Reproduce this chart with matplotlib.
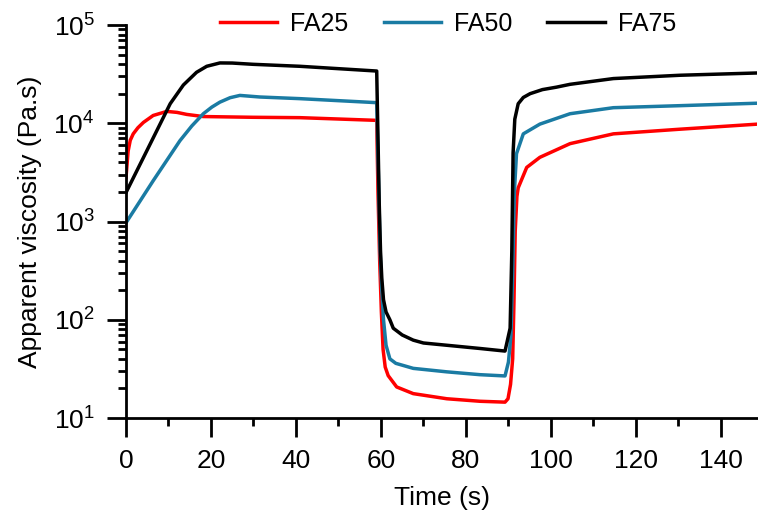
import matplotlib
matplotlib.use("Agg")
import matplotlib.pyplot as plt
from matplotlib import ticker

# viscosity step test: low shear, high shear, recovery
fa25_t = [0.0, 0.5, 1.0, 1.7, 2.8, 4.1, 6.4, 9.6, 12.0, 14.3, 18.2, 29.9, 40.9, 59.0,
          59.3, 59.7, 60.1, 60.5, 61.0, 61.7, 63.7, 67.6, 75.5, 83.3, 89.2,
          89.9, 90.5, 91.0, 91.3, 91.6, 92.0, 92.3, 94.3, 97.4, 104.5,
          114.7, 130.4, 148.7]
fa25_v = [2800, 5200, 6700, 7800, 9000, 10200, 12000, 13200, 12900, 12300, 11700, 11500, 11400, 10700,
          2000, 400, 120, 50, 33, 27, 20.7, 17.7, 15.7, 14.8, 14.5,
          15.7, 22, 40, 150, 800, 1800, 2200, 3550, 4500, 6200,
          7800, 8700, 9800]

fa50_t = [0.0, 6.4, 12.7, 15.5, 18.2, 20.2, 22.1, 24.5, 26.8, 31.5, 40.9, 59.0,
          59.4, 59.8, 60.2, 60.6, 61.2, 62.1, 63.5, 65.5, 67.6, 75.5, 83.3, 89.2,
          90.0, 90.6, 91.0, 91.4, 91.9, 93.5, 97.4, 104.5,
          114.7, 130.4, 148.7]
fa50_v = [970, 2600, 6650, 9400, 12500, 14600, 16400, 18200, 19200, 18500, 17800, 16200,
          3000, 500, 200, 100, 55, 40, 36, 34, 32, 29.5, 27.6, 26.8,
          37, 70, 300, 2000, 4900, 7800, 9800, 12500,
          14400, 15100, 16000]

fa75_t = [0.0, 4.9, 10.4, 13.5, 16.6, 19.0, 22.1, 25.0, 29.9, 40.9, 59.0,
          59.6, 59.9, 60.2, 60.6, 61.2, 62.1, 62.9, 65.0, 67.6, 70.0, 75.5, 83.3, 89.2,
          90.4, 90.8, 91.1, 91.5, 92.3, 93.5, 95.1, 98.0, 101.3, 104.5,
          114.7, 130.4, 148.7]
fa75_v = [1970, 5250, 15800, 24500, 33000, 38000, 41100, 41000, 39800, 38000, 34000,
          1500, 500, 265, 160, 120, 100, 82, 70, 62, 58, 55, 51, 48,
          82, 500, 5000, 11000, 15800, 18300, 20000, 22000, 23300, 24900,
          28500, 30800, 32500]

series = [("FA25", fa25_t, fa25_v, "#ff0000"),
          ("FA50", fa50_t, fa50_v, "#1a7ba3"),
          ("FA75", fa75_t, fa75_v, "#000000")]

plt.rcParams["font.family"] = ["Liberation Sans", "DejaVu Sans"]
plt.rcParams["mathtext.fontset"] = "custom"
plt.rcParams["mathtext.rm"] = "Liberation Sans"

fig = plt.figure(figsize=(7.58, 5.18), dpi=100)
ax = fig.add_axes([126 / 758, 1 - 418 / 518, (757 - 126) / 758, (418 - 25) / 518])

for name, t, v, color in series:
    ax.plot(t, v, color=color, lw=2.5, label=name)

ax.set_yscale("log")
ax.set_xlim(0, 148.5)
ax.set_ylim(10, 1e5)

ax.xaxis.set_major_locator(ticker.MultipleLocator(20))
ax.xaxis.set_minor_locator(ticker.MultipleLocator(10))
ax.yaxis.set_major_locator(ticker.LogLocator(base=10))
ax.yaxis.set_minor_locator(ticker.LogLocator(base=10, subs=range(2, 10)))
ax.yaxis.set_minor_formatter(ticker.NullFormatter())

for a in ["right", "top"]:
    ax.spines[a].set_visible(False)
for a in ["left", "bottom"]:
    ax.spines[a].set_linewidth(2)

ax.tick_params(which="major", length=13.5, width=2, labelsize=19)
ax.tick_params(which="minor", length=6, width=2)
ax.tick_params(axis="y", which="major", pad=9)
ax.tick_params(axis="x", which="major", pad=9)

ax.set_xlabel("Time (s)", fontsize=19, labelpad=9)
ax.set_ylabel("Apparent viscosity (Pa.s)", fontsize=19, labelpad=8)

ax.legend(loc="center", bbox_to_anchor=(448 / 758, 1 - 24 / 518),
          bbox_transform=fig.transFigure, ncol=3, frameon=False,
          fontsize=18, handlelength=2.3, handletextpad=0.52, columnspacing=1.4)

fig.savefig("out.png", dpi=100)
